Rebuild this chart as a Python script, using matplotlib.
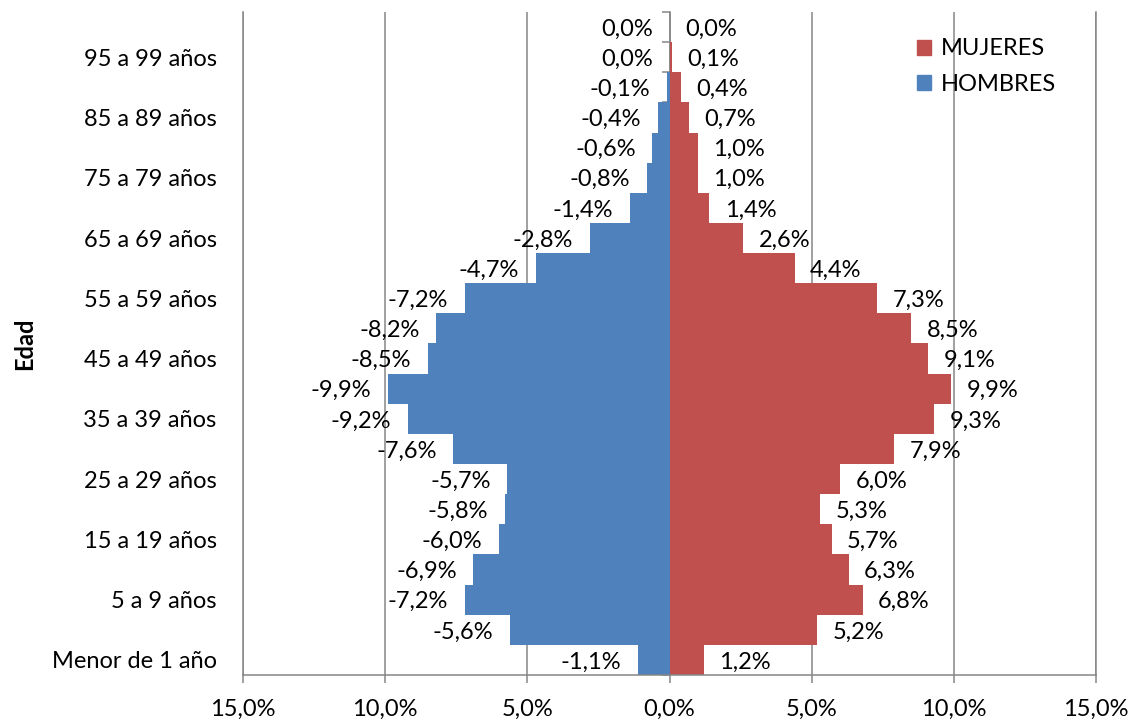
import numpy as np
import matplotlib
matplotlib.use("Agg")
import matplotlib.pyplot as plt
from matplotlib.patches import Patch

plt.rcParams['font.family'] = ['Lato', 'DejaVu Sans']

grupos = ["Menor de 1 año", "1 a 4 años", "5 a 9 años", "10 a 14 años", "15 a 19 años",
          "20 a 24 años", "25 a 29 años", "30 a 34 años", "35 a 39 años", "40 a 44 años",
          "45 a 49 años", "50 a 54 años", "55 a 59 años", "60 a 64 años", "65 a 69 años",
          "70 a 74 años", "75 a 79 años", "80 a 84 años", "85 a 89 años", "90 a 94 años",
          "95 a 99 años", "100 años y más"]
hombres = [1.1, 5.6, 7.2, 6.9, 6.0, 5.8, 5.7, 7.6, 9.2, 9.9, 8.5, 8.2, 7.2, 4.7,
           2.8, 1.4, 0.8, 0.6, 0.4, 0.1, 0.0, 0.0]
mujeres = [1.2, 5.2, 6.8, 6.3, 5.7, 5.3, 6.0, 7.9, 9.3, 9.9, 9.1, 8.5, 7.3, 4.4,
           2.6, 1.4, 1.0, 1.0, 0.7, 0.4, 0.1, 0.0]
xticks = [-15, -10, -5, 0, 5, 10, 15]

AZUL = "#4F81BD"
ROJO = "#C0504D"
GRIS = "#868686"
FS = 17


def pct(v):
    s = f"{v:.1f}%".replace(".", ",")
    return "0,0%" if s == "-0,0%" else s


fig = plt.figure(figsize=(11.3, 7.22), dpi=100)
ax = fig.add_axes([0.215, 0.0651, 0.755, 0.9183])

y = np.arange(len(grupos))
h = -np.array(hombres)
m = np.array(mujeres)
ax.barh(y, h, height=1.0, color=AZUL, linewidth=0, zorder=2)
ax.barh(y, m, height=1.0, color=ROJO, linewidth=0, zorder=2)

# etiquetas de datos fuera del extremo de cada barra
for yi, v in zip(y, h):
    ax.annotate(pct(v), (v, yi), xytext=(-12, -1.5), textcoords='offset points',
                ha='right', va='center', fontsize=FS)
for yi, v in zip(y, m):
    ax.annotate(pct(v), (v, yi), xytext=(11, -1.5), textcoords='offset points',
                ha='left', va='center', fontsize=FS)

ax.set_xlim(-15, 15)
ax.set_ylim(-0.5, len(grupos) - 0.5)
ax.set_xticks(xticks)
ax.set_xticklabels([pct(abs(v)) for v in xticks], fontsize=FS)
ax.set_yticks(y[::2])
ax.set_yticklabels(grupos[::2], fontsize=FS)
ax.tick_params(axis='y', length=0, pad=19)
ax.tick_params(axis='x', length=6, width=1.1, color=GRIS, pad=11)
ax.grid(axis='x', color=GRIS, linewidth=1.1, zorder=1)
ax.set_axisbelow(True)
ax.spines['top'].set_visible(False)
for s in ['left', 'right', 'bottom']:
    ax.spines[s].set_color(GRIS)
    ax.spines[s].set_linewidth(1.1)

# eje central con marcas entre grupos
sec = ax.secondary_yaxis(0.5)
sec.set_alignment('left')
sec.set_yticks(np.arange(-0.5, len(grupos), 1.0))
sec.tick_params(axis='y', length=6, width=1.1, color=GRIS, labelleft=False, labelright=False)
sec.spines['left'].set_color(GRIS)
sec.spines['left'].set_linewidth(1.1)
for s in ['right', 'top', 'bottom']:
    sec.spines[s].set_visible(False)

ax.set_ylabel("Edad", fontsize=FS, fontweight='bold')
ax.yaxis.set_label_coords(-0.243, 0.5)

handles = [Patch(color=ROJO, label="MUJERES"), Patch(color=AZUL, label="HOMBRES")]
ax.legend(handles=handles, loc='upper left', bbox_to_anchor=(0.771, 0.985), frameon=False,
          fontsize=FS, handlelength=0.6, handleheight=0.6, handletextpad=0.4,
          labelspacing=0.62, borderpad=0.2)

fig.savefig("out.png", dpi=100)
